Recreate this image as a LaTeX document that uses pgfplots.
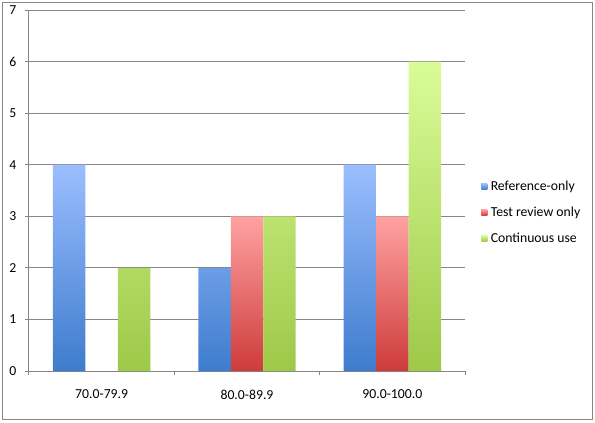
\documentclass[border=0pt]{standalone}
\usepackage{pgfplots}
\pgfplotsset{compat=1.18}
\usepackage{fontspec}
\setmainfont{Carlito}
\definecolor{gridgray}{RGB}{134,134,134}
\definecolor{bluetop}{RGB}{155,190,255}
\definecolor{bluebot}{RGB}{62,124,205}
\definecolor{redtop}{RGB}{255,162,162}
\definecolor{redbot}{RGB}{205,60,58}
\definecolor{greentop}{RGB}{218,252,152}
\definecolor{greenbot}{RGB}{158,200,72}
\begin{document}
\begin{tikzpicture}[x=0.75pt,y=0.75pt]
\useasboundingbox (0,0) rectangle (595,422);
\draw[gridgray, line width=0.75pt] (2.5,2.5) rectangle (592.5,419.5);
\begin{axis}[
  at={(29*0.75pt,51*0.75pt)}, anchor=south west,
  scale only axis, width=436*0.75pt, height=361*0.75pt,
  xmin=-0.5, xmax=2.5, ymin=0, ymax=7,
  axis lines=left, axis line style={gridgray, line width=0.75pt, -},
  ytick={0,1,...,7},
  ymajorgrids, grid style={gridgray, line width=0.75pt},
  xtick={0,1,2},
  xticklabels={70.0-79.9,80.0-89.9,90.0-100.0},
  x tick style={draw=none},
  y tick style={gridgray, line width=0.75pt},
  major tick length=4*0.75pt,
  tick align=outside,
  extra x ticks={-0.5,0.5,1.5,2.5},
  extra x tick labels={},
  extra x tick style={x tick style={draw=gridgray, line width=0.75pt}, major tick length=4*0.75pt, xmajorgrids=false},
  tick label style={font=\fontsize{10.3}{12}\selectfont, text=black},
  /pgf/number format/assume math mode=true,
  yticklabel style={xshift=-4*0.75pt},
  xticklabel style={yshift=-10*0.75pt},
  ybar, bar width=0.2236,
  legend style={at={(1.0367,0.528)}, anchor=north west, draw=none, fill=none,
    font=\fontsize{10.3}{12}\selectfont, row sep=14.5*0.75pt, inner sep=0pt,
    nodes={inner xsep=3.5*0.75pt, inner ysep=0pt}},
  legend cell align=left,
  legend image code/.code={\fill[#1] (0,-3*0.75pt) rectangle (6*0.75pt,3*0.75pt);},
  clip=false,
]
\addplot[draw=none, top color=bluetop, bottom color=bluebot, bar shift=-0.2236,
  legend image post style={fill=bluebot!70!bluetop}]
  coordinates {(0,4) (1,2) (2,4)};
\addlegendentry{Reference-only}
\addplot[draw=none, top color=redtop, bottom color=redbot, bar shift=0,
  legend image post style={fill=redbot!70!redtop}]
  coordinates {(0,0) (1,3) (2,3)};
\addlegendentry{Test review only}
\addplot[draw=none, top color=greentop, bottom color=greenbot, bar shift=0.2236,
  legend image post style={fill=greenbot!70!greentop}]
  coordinates {(0,2) (1,3) (2,6)};
\addlegendentry{Continuous use}
\end{axis}
\end{tikzpicture}
\end{document}
